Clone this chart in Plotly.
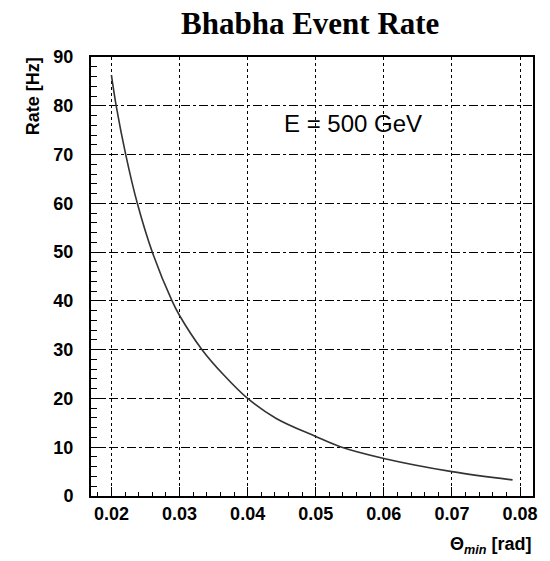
import plotly.graph_objects as go

# Data
theta_min = [0.0200, 0.0207, 0.0221, 0.0238, 0.0260, 0.0289, 0.0300, 0.0333,
             0.0365, 0.0400, 0.0442, 0.0500, 0.0536, 0.0600, 0.0700, 0.0789]
rate_hz = [86.3, 80.0, 70.0, 60.0, 50.0, 40.0, 37.0, 30.0,
           24.8, 20.0, 15.9, 12.2, 10.1, 7.7, 5.0, 3.3]

x_ticks = [0.02, 0.03, 0.04, 0.05, 0.06, 0.07, 0.08]
x_tick_text = ["0.02", "0.03", "0.04", "0.05", "0.06", "0.07", "0.08"]
y_ticks = [0, 10, 20, 30, 40, 50, 60, 70, 80, 90]

title_text = "Bhabha Event Rate"
label_text = "E = 500 GeV"

tick_font = dict(family="Liberation Sans, Arial, sans-serif", size=18, color="black")

fig = go.Figure()
fig.add_trace(go.Scatter(
    x=theta_min, y=rate_hz, mode="lines",
    line=dict(color="#333333", width=1.6, shape="spline", smoothing=1.0),
    showlegend=False, hoverinfo="skip",
))

fig.update_layout(
    width=550, height=561,
    margin=dict(l=91, r=15, t=57, b=65),
    paper_bgcolor="white", plot_bgcolor="white",
    showlegend=False,
    annotations=[
        dict(text="<b>" + title_text + "</b>", xref="paper", yref="paper",
             x=(311 - 91) / 444, y=1 + (57 - 23) / 439, xanchor="center", yanchor="middle",
             showarrow=False,
             font=dict(family="Liberation Serif, Times New Roman, serif", size=31, color="black")),
        dict(text=label_text, xref="paper", yref="paper",
             x=(354 - 91) / 444, y=(496 - 124) / 439, xanchor="center", yanchor="middle",
             showarrow=False,
             font=dict(family="Liberation Sans, Arial, sans-serif", size=24, color="black")),
        dict(text="<b>Rate [Hz]</b>", xref="paper", yref="paper",
             x=-(91 - 33) / 444, y=1 + (57 - 55) / 439, xanchor="center", yanchor="top",
             textangle=-90, showarrow=False,
             font=dict(family="Liberation Sans, Arial, sans-serif", size=18, color="black")),
        dict(text="<b>Θ<sub><i>min</i></sub> [rad]</b>", xref="paper", yref="paper",
             x=1, y=-(545 - 496) / 439, xanchor="right", yanchor="middle",
             showarrow=False,
             font=dict(family="Liberation Sans, Arial, sans-serif", size=18, color="black")),
    ],
)

fig.update_xaxes(
    range=[0.0170, 0.0819],
    tickvals=x_ticks, ticktext=["<b>" + t + "</b>" for t in x_tick_text],
    tickfont=tick_font,
    ticks="inside", ticklen=9, tickwidth=1, tickcolor="black",
    minor=dict(dtick=0.002, tick0=0.0, ticks="inside", ticklen=4, tickcolor="black", showgrid=False),
    showline=True, linecolor="black", linewidth=2, mirror=True,
    showgrid=True, gridcolor="black", gridwidth=1, griddash="dot",
    zeroline=False, ticklabelstandoff=0,
)
fig.update_yaxes(
    range=[0, 90],
    tickvals=y_ticks, ticktext=["<b>%d</b>" % v for v in y_ticks],
    tickfont=tick_font,
    ticks="inside", ticklen=12, tickwidth=1, tickcolor="black",
    minor=dict(dtick=2, tick0=0, ticks="inside", ticklen=6, tickcolor="black", showgrid=False),
    showline=True, linecolor="black", linewidth=2, mirror=True,
    showgrid=True, gridcolor="black", gridwidth=1, griddash="dashdot",
    zeroline=False, ticklabelstandoff=12,
)

fig.write_html("out.html")
